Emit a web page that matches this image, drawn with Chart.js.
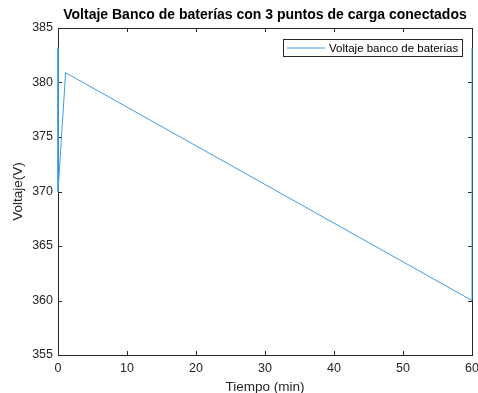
<!DOCTYPE html>
<html lang="es">
<head>
<meta charset="UTF-8">
<title>Voltaje Banco de baterías</title>
<style>
    html, body { margin: 0; padding: 0; background: #fff; }
    .chart-container { width: 478px; height: 393px; }
</style>
</head>
<body>
<div class="chart-container">
    <canvas id="voltChart"></canvas>
</div>
<script src="https://cdn.jsdelivr.net/npm/chart.js"></script>
<script>
    const tiempo = [0, 0, 1.1, 60, 60];
    const voltaje = [383.2, 370, 380.9, 360, 383.2];
    const xTicks = [0, 10, 20, 30, 40, 50, 60];
    const yTicks = [355, 360, 365, 370, 375, 380, 385];

    const titulo = 'Voltaje Banco de baterías con 3 puntos de carga conectados';
    const xTitulo = 'Tiempo (min)';
    const yTitulo = 'Voltaje(V)';
    const leyenda = 'Voltaje banco de baterias';

    const lineColor = '#3d9be0';
    const axisColor = '#262626';
    const fontFam = '"Liberation Sans", Arial, Helvetica, sans-serif';

    // matlab-like box, ticks and labels go under the line, legend on top
    const matlabAxes = {
        id: 'matlabAxes',
        beforeDatasetsDraw(chart) {
            const ctx = chart.ctx;
            const a = chart.chartArea;
            const xs = chart.scales.x;
            const ys = chart.scales.y;
            ctx.save();
            ctx.strokeStyle = axisColor;
            ctx.lineWidth = 1;
            ctx.strokeRect(Math.round(a.left) + 0.5, Math.round(a.top) + 0.5,
                Math.round(a.right - a.left), Math.round(a.bottom - a.top));

            ctx.beginPath();
            xTicks.forEach(v => {
                const px = Math.round(xs.getPixelForValue(v)) + 0.5;
                ctx.moveTo(px, a.bottom); ctx.lineTo(px, a.bottom - 4);
                ctx.moveTo(px, a.top); ctx.lineTo(px, a.top + 4);
            });
            yTicks.forEach(v => {
                const py = Math.round(ys.getPixelForValue(v)) + 0.5;
                ctx.moveTo(a.left, py); ctx.lineTo(a.left + 4, py);
                ctx.moveTo(a.right, py); ctx.lineTo(a.right - 4, py);
            });
            ctx.stroke();

            ctx.fillStyle = axisColor;
            ctx.font = '12.5px ' + fontFam;
            ctx.textAlign = 'center';
            ctx.textBaseline = 'middle';
            xTicks.forEach(v => {
                ctx.fillText(String(v), xs.getPixelForValue(v), a.bottom + 14);
            });
            ctx.textAlign = 'right';
            yTicks.forEach(v => {
                ctx.fillText(String(v), a.left - 5, ys.getPixelForValue(v));
            });

            ctx.font = '13.5px ' + fontFam;
            ctx.textAlign = 'center';
            ctx.fillText(xTitulo, (a.left + a.right) / 2, a.bottom + 32);
            ctx.save();
            ctx.translate(18, (a.top + a.bottom) / 2);
            ctx.rotate(-Math.PI / 2);
            ctx.fillText(yTitulo, 0, 0);
            ctx.restore();

            ctx.font = 'bold 14px ' + fontFam;
            ctx.fillStyle = '#000';
            ctx.fillText(titulo, (a.left + a.right) / 2, 15);
            ctx.restore();
        },
        afterDatasetsDraw(chart) {
            const ctx = chart.ctx;
            ctx.save();
            ctx.font = '11.5px ' + fontFam;
            ctx.textBaseline = 'middle';
            const bx = 283, by = 39, bh = 17;
            const bw = 462 - bx;
            ctx.fillStyle = '#fff';
            ctx.fillRect(bx, by, bw, bh);
            ctx.lineWidth = 1;
            ctx.strokeStyle = axisColor;
            ctx.strokeRect(bx + 0.5, by + 0.5, bw, bh);
            ctx.strokeStyle = lineColor;
            ctx.beginPath();
            ctx.moveTo(bx + 4, by + 9);
            ctx.lineTo(bx + 42, by + 9);
            ctx.stroke();
            ctx.fillStyle = '#000';
            ctx.textAlign = 'left';
            ctx.fillText(leyenda, bx + 46, by + 9.5);
            ctx.restore();
        }
    };

    new Chart(document.getElementById('voltChart'), {
        type: 'line',
        data: {
            datasets: [{
                label: leyenda,
                data: tiempo.map((t, i) => ({ x: t, y: voltaje[i] })),
                borderColor: lineColor,
                borderWidth: 1,
                pointRadius: 0,
                tension: 0,
                fill: false,
                clip: 3
            }]
        },
        options: {
            responsive: true,
            maintainAspectRatio: false,
            animation: false,
            layout: { padding: { left: 58, right: 6, top: 28, bottom: 38 } },
            plugins: {
                legend: { display: false },
                tooltip: { enabled: false }
            },
            scales: {
                x: { type: 'linear', min: 0, max: 60, display: false },
                y: { type: 'linear', min: 355, max: 385, display: false }
            }
        },
        plugins: [matlabAxes]
    });
</script>
</body>
</html>
